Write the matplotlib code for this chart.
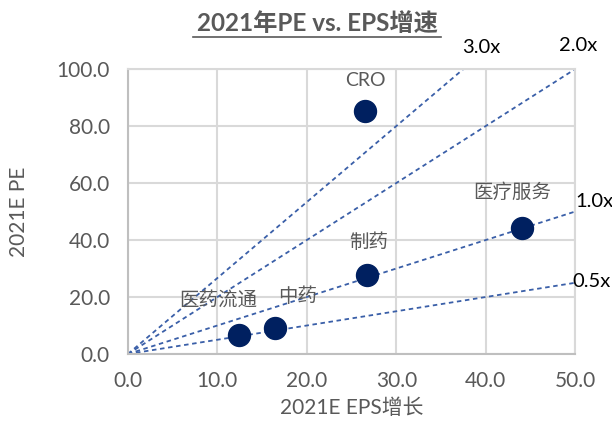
import matplotlib.pyplot as plt

plt.rcParams['font.family'] = ['Lato', 'Noto Sans CJK SC', 'DejaVu Sans']

sectors = ['CRO', '医疗服务', '制药', '中药', '医药流通']
eps_growth = [26.5, 44.1, 26.7, 16.4, 12.4]
pe_2021 = [85.2, 44.3, 27.6, 9.2, 6.8]
# label offsets in pixels (dx, dy) from each dot
label_off = [(0, 31), (-10, 36), (2, 34), (23, 32), (-21, 35)]

peg_names = ['3.0x', '2.0x', '1.0x', '0.5x']
peg_end_x = [37.5, 50.0, 50.0, 50.0]
peg_end_y = [100.0, 100.0, 50.0, 25.0]
peg_off = [(18, 22), (3, 24), (19, 10), (16, 1)]

grey = '#595959'
navy = '#002060'
line_blue = '#3A5FA8'

fig = plt.figure(figsize=(6.12, 4.26), dpi=100)
ax = fig.add_axes([0.209, 0.169, 0.731, 0.669])

for xe, ye in zip(peg_end_x, peg_end_y):
    ax.plot([0, xe], [0, ye], ls=(0, (2.5, 2)), color=line_blue, lw=1.3,
            zorder=2, clip_on=False)

ax.scatter(eps_growth, pe_2021, s=250, color=navy, zorder=3, clip_on=False)

for name, x, y, (dx, dy) in zip(sectors, eps_growth, pe_2021, label_off):
    ax.annotate(name, (x, y), xytext=(dx, dy), textcoords='offset pixels',
                ha='center', va='center', fontsize=14, color=grey)

for name, x, y, (dx, dy) in zip(peg_names, peg_end_x, peg_end_y, peg_off):
    ax.annotate(name, (x, y), xytext=(dx, dy), textcoords='offset pixels',
                ha='center', va='center', fontsize=14.5, color='black',
                annotation_clip=False)

ax.set_xlim(0, 50)
ax.set_ylim(0, 100)
ax.set_xticks(range(0, 51, 10))
ax.set_yticks(range(0, 101, 20))
ax.set_xticklabels([f'{v:.1f}' for v in range(0, 51, 10)])
ax.set_yticklabels([f'{v:.1f}' for v in range(0, 101, 20)])
ax.tick_params(length=0, labelsize=15, labelcolor=grey)
ax.tick_params(axis='y', pad=13)
ax.tick_params(axis='x', pad=12)
ax.grid(color='#d9d9d9', lw=1.5)
ax.set_axisbelow(True)
for side, sp in ax.spines.items():
    sp.set_color('#d9d9d9')
    sp.set_linewidth(1.5)
ax.spines['left'].set_color('#bfbfbf')
ax.spines['bottom'].set_color('#bfbfbf')

ax.set_xlabel('2021E EPS增长', fontsize=15, color=grey, labelpad=5)
ax.set_ylabel('2021E PE', fontsize=15, color=grey, labelpad=20)

fig.text(0.518, 0.945, '2021年PE vs. EPS增速', ha='center', va='center',
         fontsize=17.5, fontweight='bold', color=grey)
fig.add_artist(plt.Line2D([0.316, 0.720], [0.912, 0.912], color=grey, lw=1.2))

fig.savefig('out.png', dpi=100)
